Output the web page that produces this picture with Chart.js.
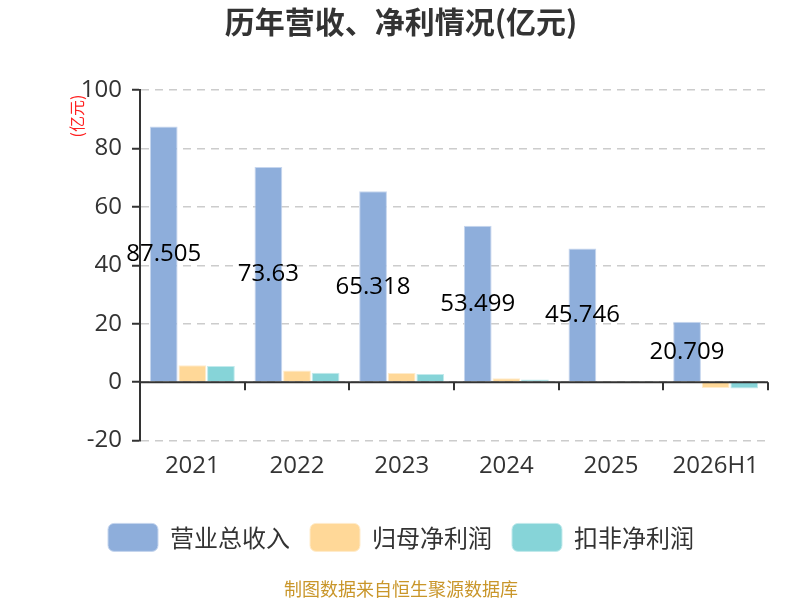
<!DOCTYPE html>
<html><head><meta charset="utf-8">
<script src="https://cdn.jsdelivr.net/npm/chart.js@4"></script>
<style>html,body{margin:0;padding:0;background:#fff}#wrap{width:800px;height:600px;position:relative}</style>
</head><body><div id="wrap"><canvas id="c" width="800" height="600"></canvas></div>
<script>
const categories = ['2021','2022','2023','2024','2025','2026H1'];
const revenue = [87.505, 73.63, 65.318, 53.499, 45.746, 20.709];
const netProfit = [5.8, 4.0, 3.1, 1.3, 0.15, -2.0];
const deductedProfit = [5.5, 3.2, 2.8, 0.9, 0.1, -2.2];
const yTicks = [-20, 0, 20, 40, 60, 80, 100];
const FONT = '"Open Sans","Noto Sans CJK SC",sans-serif';
const CJK = '"Noto Sans CJK SC","Open Sans",sans-serif';

const extras = {
  id: 'extras',
  afterDatasetsDraw(chart) {
    const ctx = chart.ctx, x = chart.scales.x, y = chart.scales.y;
    const ca = chart.chartArea;
    const y0 = y.getPixelForValue(0);
    ctx.save();
    ctx.strokeStyle = '#333'; ctx.lineWidth = 2;
    ctx.beginPath(); ctx.moveTo(ca.left, y0); ctx.lineTo(ca.right, y0); ctx.stroke();
    const n = categories.length;
    const w = (ca.right - ca.left) / n;
    for (let i = 0; i <= n; i++) {
      const px = Math.round(ca.left + w * i);
      ctx.beginPath(); ctx.moveTo(px, y0); ctx.lineTo(px, y0 + 8); ctx.stroke();
    }
    const meta = chart.getDatasetMeta(0);
    ctx.fillStyle = '#000'; ctx.font = '24px ' + FONT;
    ctx.textAlign = 'center'; ctx.textBaseline = 'middle';
    meta.data.forEach((bar, i) => {
      const v = revenue[i];
      ctx.fillText(String(v), bar.x, y.getPixelForValue(v / 2));
    });
    ctx.translate(77, 116); ctx.rotate(-Math.PI / 2);
    ctx.fillStyle = '#ff2020'; ctx.font = '16px ' + CJK;
    ctx.fillText('(亿元)', 0, 0);
    ctx.restore();
  }
};

new Chart(document.getElementById('c'), {
  type: 'bar',
  data: {
    labels: categories,
    datasets: [
      { label: '营业总收入', data: revenue, backgroundColor: '#8eaedb', borderColor: '#c6d6ee', borderWidth: 1 },
      { label: '归母净利润', data: netProfit, backgroundColor: '#ffd898', borderColor: '#ffeccc', borderWidth: 1 },
      { label: '扣非净利润', data: deductedProfit, backgroundColor: '#86d4d8', borderColor: '#c2eaec', borderWidth: 1 }
    ]
  },
  options: {
    responsive: false,
    animation: false,
    devicePixelRatio: 1,
    layout: { padding: { left: 34, right: 32, top: 0, bottom: 0 } },
    datasets: { bar: { categoryPercentage: 0.82, barPercentage: 0.97 } },
    scales: {
      x: {
        grid: { display: false, drawTicks: false },
        border: { display: false },
        ticks: { color: '#333', font: { size: 24, family: FONT }, padding: 11 },
        afterFit(s) { s.height += 12; }
      },
      y: {
        min: -20, max: 100,
        afterBuildTicks(s) { s.ticks = yTicks.map(v => ({ value: v })); },
        afterFit(s) { s.width = 106; },
        grid: { color: '#cccccc', lineWidth: 1.5, tickColor: '#333', tickLength: 8, tickBorderDash: [], tickWidth: 2 },
        border: { display: true, color: '#333', width: 2, dash: [8, 6] },
        ticks: { color: '#333', font: { size: 24, family: FONT }, padding: 10 }
      }
    },
    plugins: {
      title: { display: true, text: '历年营收、净利情况(亿元)', color: '#333', font: { size: 30, weight: 'bold', family: CJK }, padding: { top: 4, bottom: 50 } },
      legend: {
        position: 'bottom',
        labels: { boxWidth: 50, boxHeight: 28, useBorderRadius: true, borderRadius: 6, color: '#333', font: { size: 24, family: CJK }, padding: 20 }
      },
      subtitle: { display: true, position: 'bottom', text: '制图数据来自恒生聚源数据库', color: '#c9962a', font: { size: 18, family: CJK }, padding: { top: 17, bottom: 0 } },
      tooltip: { enabled: false }
    }
  },
  plugins: [extras]
});
</script></body></html>
